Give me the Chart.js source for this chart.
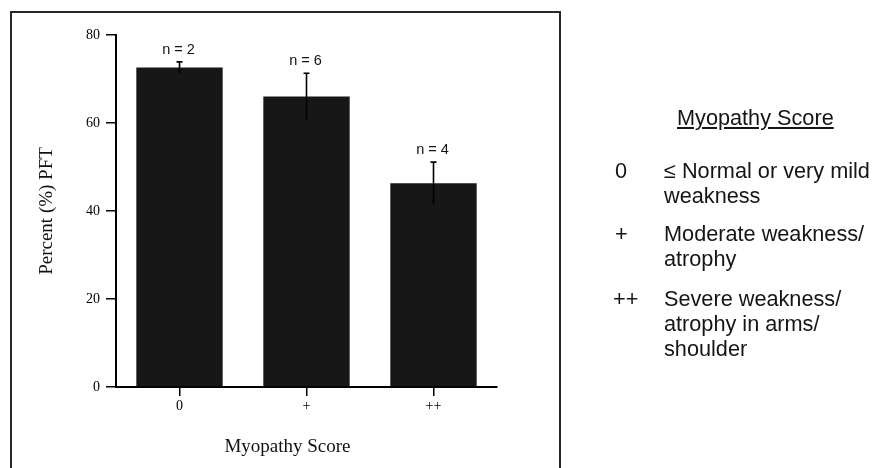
<!DOCTYPE html>
<html>
<head>
<meta charset="utf-8">
<script src="https://cdn.jsdelivr.net/npm/chart.js@4.4.0/dist/chart.umd.min.js"></script>
<style>
  html, body { margin:0; padding:0; background:#fff; }
  #wrap { position:relative; width:875px; height:468px; overflow:hidden; }
  #frame { position:absolute; left:10px; top:11px; width:547px; height:480px; border:2px solid #262626; box-sizing:content-box; }
  #c { position:absolute; left:0; top:0; }
  .lg { position:absolute; font-family:"Liberation Sans", Arial, sans-serif; font-size:21.7px; color:#151515; white-space:nowrap; line-height:25px; }
</style>
</head>
<body>
<div id="wrap">
  <div id="frame"></div>
  <canvas id="c" width="875" height="468"></canvas>
  <div class="lg" style="left:677px; top:105px; text-decoration:underline;">Myopathy Score</div>
  <div class="lg" style="left:615px; top:158px;">0</div>
  <div class="lg" style="left:664px; top:158px;">≤ Normal or very mild<br>weakness</div>
  <div class="lg" style="left:615px; top:221px;">+</div>
  <div class="lg" style="left:664px; top:221px;">Moderate weakness/<br>atrophy</div>
  <div class="lg" style="left:613px; top:286px;">++</div>
  <div class="lg" style="left:664px; top:286px;">Severe weakness/<br>atrophy in arms/<br>shoulder</div>
</div>
<script>
const categories = ['0', '+', '++'];
const meanPFT = [72.6, 66.0, 46.3];
const errorPFT = [1.3, 5.3, 4.8];
const groupN = ['n = 2', 'n = 6', 'n = 4'];
const yTicks = [0, 20, 40, 60, 80];

const errorBars = {
  id: 'errorBars',
  afterDatasetsDraw(chart) {
    const ctx = chart.ctx;
    const meta = chart.getDatasetMeta(0);
    const y = chart.scales.y;
    ctx.save();
    meta.data.forEach((bar, i) => {
      const x = bar.x;
      const top = y.getPixelForValue(meanPFT[i] + errorPFT[i]);
      const bot = y.getPixelForValue(meanPFT[i] - errorPFT[i]);
      ctx.strokeStyle = '#000';
      ctx.lineWidth = 1.6;
      ctx.beginPath();
      ctx.moveTo(x, bot); ctx.lineTo(x, top);
      ctx.moveTo(x - 3, top); ctx.lineTo(x + 3, top);
      ctx.stroke();
      ctx.fillStyle = '#141414';
      ctx.font = '14.5px "Liberation Sans", Arial, sans-serif';
      ctx.textAlign = 'center';
      ctx.textBaseline = 'bottom';
      ctx.fillText(groupN[i], x - 1, top - 5);
    });
    // x-axis title
    const xs = chart.scales.x;
    ctx.fillStyle = '#111';
    ctx.font = '19px "Liberation Serif", "Times New Roman", serif';
    ctx.textAlign = 'center';
    ctx.textBaseline = 'middle';
    ctx.fillText('Myopathy Score', xs.left + (xs.right - xs.left) * 0.45, 447);
    ctx.restore();
  }
};

new Chart(document.getElementById('c'), {
  type: 'bar',
  data: {
    labels: categories,
    datasets: [{
      data: meanPFT,
      backgroundColor: '#171717',
      borderWidth: 0,
      barPercentage: 0.68,
      categoryPercentage: 1.0
    }]
  },
  options: {
    responsive: false,
    animation: false,
    devicePixelRatio: 1,
    layout: { padding: { left: 0, top: 35, right: 378, bottom: 0 } },
    plugins: { legend: { display: false }, tooltip: { enabled: false } },
    scales: {
      x: {
        afterFit: (s) => { s.height = 81; },
        grid: { offset: false, drawOnChartArea: false, drawTicks: true, tickLength: 9, color: '#000', lineWidth: 1.5 },
        border: { display: true, color: '#000', width: 2 },
        ticks: { color: '#000', padding: 2, font: { family: '"Liberation Serif", "Times New Roman", serif', size: 14 } }
      },
      y: {
        min: 0, max: 80,
        afterFit: (s) => { s.width = 116; },
        afterBuildTicks: (s) => { s.ticks = yTicks.map(v => ({ value: v })); },
        grid: { drawOnChartArea: false, drawTicks: true, tickLength: 10, color: '#000', lineWidth: 1.5 },
        border: { display: true, color: '#000', width: 2 },
        ticks: { color: '#000', padding: 6, font: { family: '"Liberation Serif", "Times New Roman", serif', size: 14 } },
        title: {
          display: true,
          text: 'Percent (%) PFT',
          color: '#111',
          font: { family: '"Liberation Serif", "Times New Roman", serif', size: 19 },
          padding: { top: 36, bottom: 0 }
        }
      }
    }
  },
  plugins: [errorBars]
});
</script>
</body>
</html>
